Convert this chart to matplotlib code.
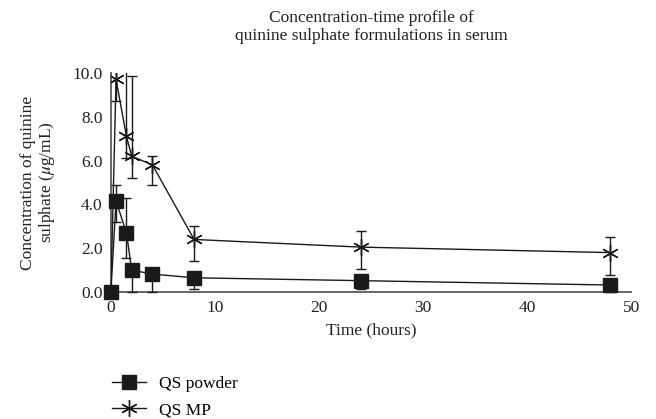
import matplotlib
matplotlib.use("Agg")
import matplotlib.pyplot as plt
from matplotlib.lines import Line2D

# sampling times (hours)
time_h = [0, 0.5, 1.5, 2, 4, 8, 24, 48]

# QS powder: mean concentration and error bar extents (below, above)
powder = [0, 4.15, 2.7, 1.0, 0.82, 0.65, 0.52, 0.32]
powder_lo = [0, 0.97, 1.15, 1.0, 0.82, 0.5, 0.4, 0.32]
powder_hi = [0, 0.72, 1.6, 0, 0, 0, 0, 0]

# QS MP
mp = [0, 9.7, 7.1, 6.2, 5.8, 2.4, 2.05, 1.8]
mp_lo = [0, 1.0, 1.0, 1.0, 0.9, 1.0, 1.0, 1.0]
mp_hi = [0, 1.0, 3.0, 3.65, 0.42, 0.6, 0.75, 0.72]

yticks = [0, 2, 4, 6, 8, 10]
xticks = [0, 10, 20, 30, 40, 50]

plt.rcParams['font.family'] = ['Liberation Serif', 'DejaVu Serif']
plt.rcParams['mathtext.fontset'] = 'stix'
fs = 12.5
ink = "#1a1a1a"
star = (6, 2, 0)  # six-spoke asterisk

fig = plt.figure(figsize=(6.56, 4.19), dpi=100)
ax = fig.add_axes([0.169, 0.303, 0.793, 0.523])

ax.errorbar(time_h, mp, yerr=[mp_lo, mp_hi], color=ink, lw=1.0,
            marker=star, markersize=12, markeredgewidth=1.0,
            capsize=3.5, elinewidth=1.0, capthick=1.0, zorder=3)
ax.errorbar(time_h, powder, yerr=[powder_lo, powder_hi], color=ink, lw=1.0,
            marker="s", markersize=9.5, markerfacecolor=ink,
            capsize=3.5, elinewidth=1.0, capthick=1.0,
            zorder=4, clip_on=False)

ax.set_xlim(0, 50)
ax.set_ylim(0, 10)
ax.set_xticks(xticks)
ax.set_yticks(yticks)
ax.set_yticklabels(["%.1f" % v for v in yticks])
ax.tick_params(length=0, labelsize=fs, pad=6, colors="#222222")
for s in ["top", "right"]:
    ax.spines[s].set_visible(False)
for s in ["left", "bottom"]:
    ax.spines[s].set_color("#666666")
    ax.spines[s].set_linewidth(1.4)

ax.set_xlabel("Time (hours)", fontsize=fs, color="#222222", labelpad=4)
ax.set_ylabel("Concentration of quinine\nsulphate ($\\mu$g/mL)", fontsize=fs,
              color="#222222", labelpad=11, linespacing=1.1)
ax.set_title("Concentration-time profile of\nquinine sulphate formulations in serum",
             fontsize=fs, color="#222222", pad=24, linespacing=1.15)

handles = [
    Line2D([], [], color=ink, lw=1.0, marker="s", markersize=9.5, markerfacecolor=ink),
    Line2D([], [], color=ink, lw=1.0, marker=star, markersize=12, markeredgewidth=1.0),
]
fig.legend(handles, ["QS powder", "QS MP"], loc="upper left",
           bbox_to_anchor=(0.170, 0.102), frameon=False, fontsize=fs,
           handlelength=2.0, labelspacing=0.55, handletextpad=0.75,
           borderaxespad=0, borderpad=0)

fig.savefig("out.png", dpi=100)
